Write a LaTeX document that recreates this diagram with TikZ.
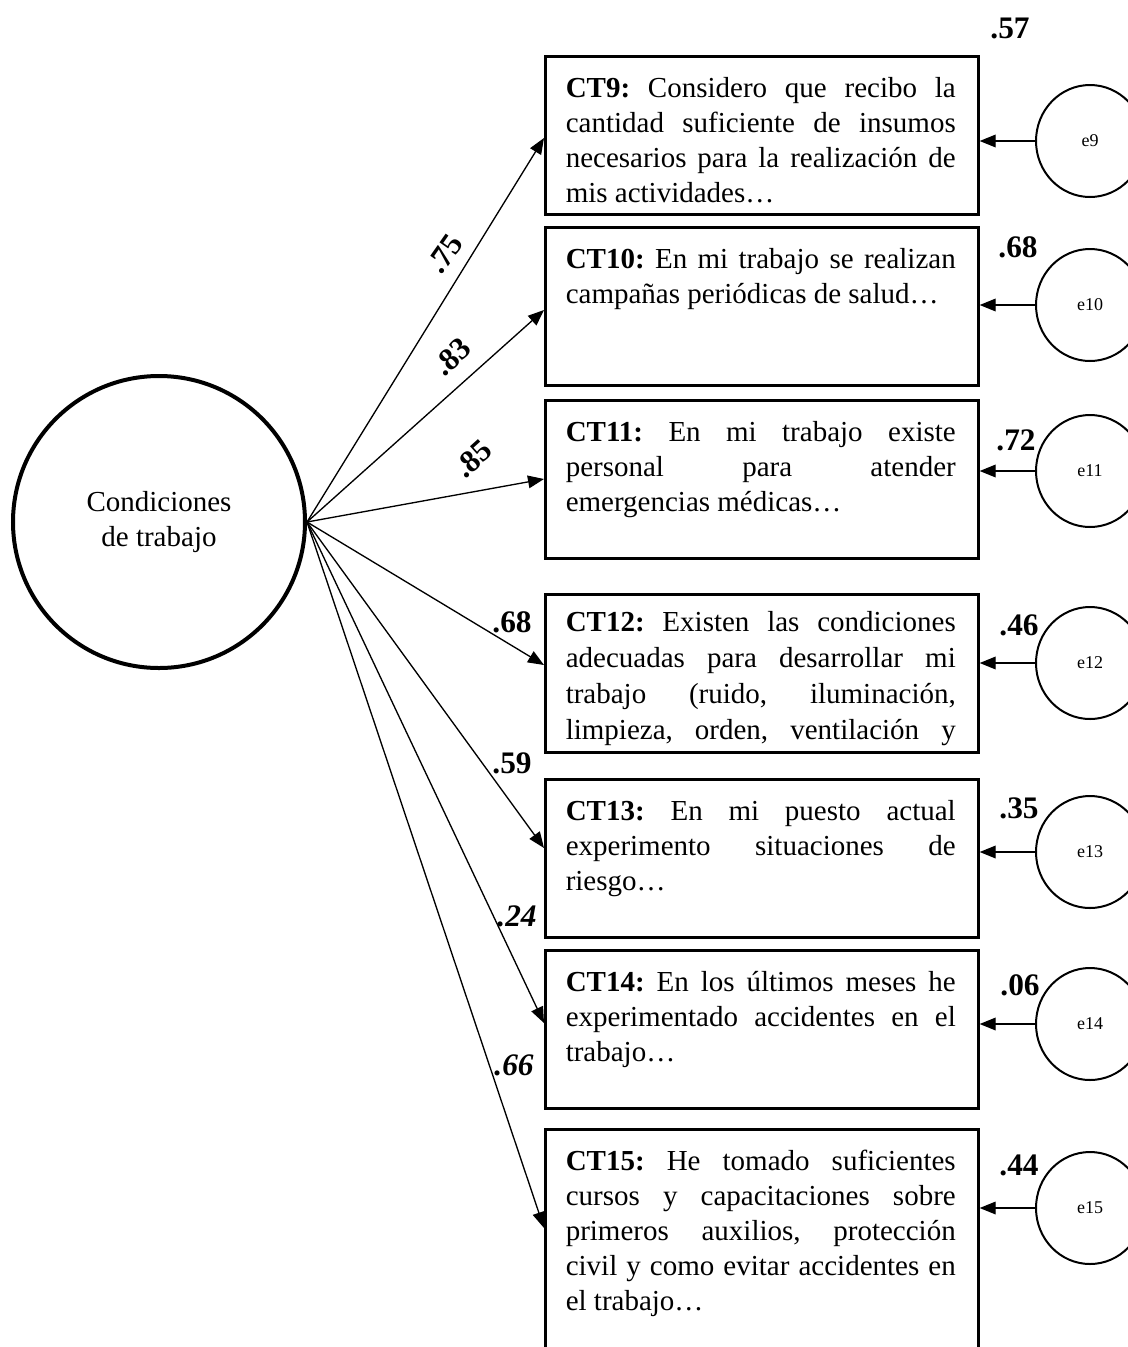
\documentclass[tikz,border=0pt]{standalone}
\usepackage{fontspec}
\setmainfont{Liberation Serif}
\usetikzlibrary{arrows.meta,shapes.geometric,calc}
\tikzset{
  fnt/.style={font=\fontsize{21.75pt}{26.25pt}\selectfont},
  itembox/.style={draw, line width=2pt, rectangle, anchor=north west, inner sep=0pt,
    minimum width=324.75pt, minimum height=118.5pt},
  itemtext/.style={fnt, anchor=north west, inner sep=0pt, text width=292.5pt, align=justify},
  latent/.style={draw, circle, line width=3pt, minimum size=219pt, inner sep=0pt, fnt, align=center},
  errnode/.style={draw, ellipse, line width=1.5pt, minimum width=81pt, minimum height=84pt,
    inner sep=0pt, font=\fontsize{13.5pt}{16pt}\selectfont},
  coef/.style={font=\fontsize{23.5pt}{27pt}\selectfont\bfseries, inner sep=0pt},
  coefit/.style={font=\fontsize{23.5pt}{27pt}\selectfont\bfseries\itshape, inner sep=0pt},
  link/.style={-{Triangle[length=12pt,width=9.5pt]}, line width=1pt},
}
\newcommand{\itemsetup}{\frenchspacing\tolerance=10000\hbadness=10000\hyphenpenalty=10000\exhyphenpenalty=10000\strut}
\begin{document}
\begin{tikzpicture}[x=0.75pt,y=-0.75pt]
\clip (0,0) rectangle (1128,1347);
\fill[white] (0,0) rectangle (1128,1347);

% latent variable
\node[latent] (lat) at (159,522) {Condiciones\\de trabajo};

% item boxes
\node[itembox] (b9)  at (544,55)  {};
\node[itembox] (b10) at (544,226) {};
\node[itembox] (b11) at (544,399) {};
\node[itembox] (b12) at (544,593) {};
\node[itembox] (b13) at (544,778) {};
\node[itembox] (b14) at (544,949) {};
\node[itembox, minimum height=187.5pt] (b15) at (544,1128) {};

% item texts
\node[itemtext] (t9) at (565.5,72.5) {\itemsetup\textbf{CT9:} Considero que recibo la\linebreak
 cantidad suficiente de insumos\linebreak
 necesarios para la realización de\linebreak
 mis actividades…};
\node[itemtext] (t10) at (565.5,243.5) {\itemsetup\textbf{CT10:} En mi trabajo se realizan\linebreak
 campañas periódicas de salud…};
\node[itemtext] (t11) at (565.5,416.5) {\itemsetup\textbf{CT11:} En mi trabajo existe\linebreak
 personal para atender\linebreak
 emergencias médicas…};
\begin{scope}
\clip (544,593) rectangle (977,745);
\node[itemtext, font=\fontsize{21.75pt}{27pt}\selectfont] (t12) at (565.5,605.8) {\itemsetup\textbf{CT12:} Existen las condiciones\linebreak
 adecuadas para desarrollar mi\linebreak
 trabajo (ruido, iluminación,\linebreak
 limpieza, orden, ventilación y\linebreak\mbox{}};
\end{scope}
\node[itemtext] (t13) at (565.5,795.5) {\itemsetup\textbf{CT13:} En mi puesto actual\linebreak
 experimento situaciones de\linebreak
 riesgo…};
\node[itemtext] (t14) at (565.5,966.5) {\itemsetup\textbf{CT14:} En los últimos meses he\linebreak
 experimentado accidentes en el\linebreak
 trabajo…};
\node[itemtext] (t15) at (565.5,1145.5) {\itemsetup\textbf{CT15:} He tomado suficientes\linebreak
 cursos y capacitaciones sobre\linebreak
 primeros auxilios, protección\linebreak
 civil y como evitar accidentes en\linebreak
 el trabajo…};

% error terms
\node[errnode] (e9)  at (1090,141)  {e9};
\node[errnode] (e10) at (1090,305)  {e10};
\node[errnode] (e11) at (1090,471)  {e11};
\node[errnode] (e12) at (1090,663)  {e12};
\node[errnode] (e13) at (1090,852)  {e13};
\node[errnode] (e14) at (1090,1024) {e14};
\node[errnode] (e15) at (1090,1208) {e15};

% loadings
\draw[link] (lat.east) -- ($(b9.north west)+(0,83)$);
\draw[link] (lat.east) -- ($(b10.north west)+(0,84)$);
\draw[link] (lat.east) -- ($(b11.north west)+(0,80)$);
\draw[link] (lat.east) -- ($(b12.north west)+(0,72)$);
\draw[link] (lat.east) -- ($(b13.north west)+(0,70)$);
\draw[link] (lat.east) -- ($(b14.north west)+(0,74)$);
\draw[link] (lat.east) -- ($(b15.north west)+(0,100)$);

% error arrows
\foreach \i in {9,...,15}{
  \draw[link] (e\i.west) -- (e\i.west -| b\i.east);
}

% loading labels
\node[coef, rotate=55] (l9)  at (445,254) {.75};
\node[coef, rotate=42] (l10) at (452,357) {.83};
\node[coef, rotate=42] (l11) at (473,459) {.85};
\node[coef] (l12) at (512,622) {.68};
\node[coef] (l13) at (512,763) {.59};
\node[coefit] (l14) at (517,916) {.24};
\node[coefit] (l15) at (514,1065) {.66};

% R2 labels
\node[coef] (r9)  at (1010,28)   {.57};
\node[coef] (r10) at (1018,247)  {.68};
\node[coef] (r11) at (1016,440)  {.72};
\node[coef] (r12) at (1019,625)  {.46};
\node[coef] (r13) at (1019,808)  {.35};
\node[coef] (r14) at (1020,985)  {.06};
\node[coef] (r15) at (1019,1165) {.44};
\end{tikzpicture}
\end{document}
